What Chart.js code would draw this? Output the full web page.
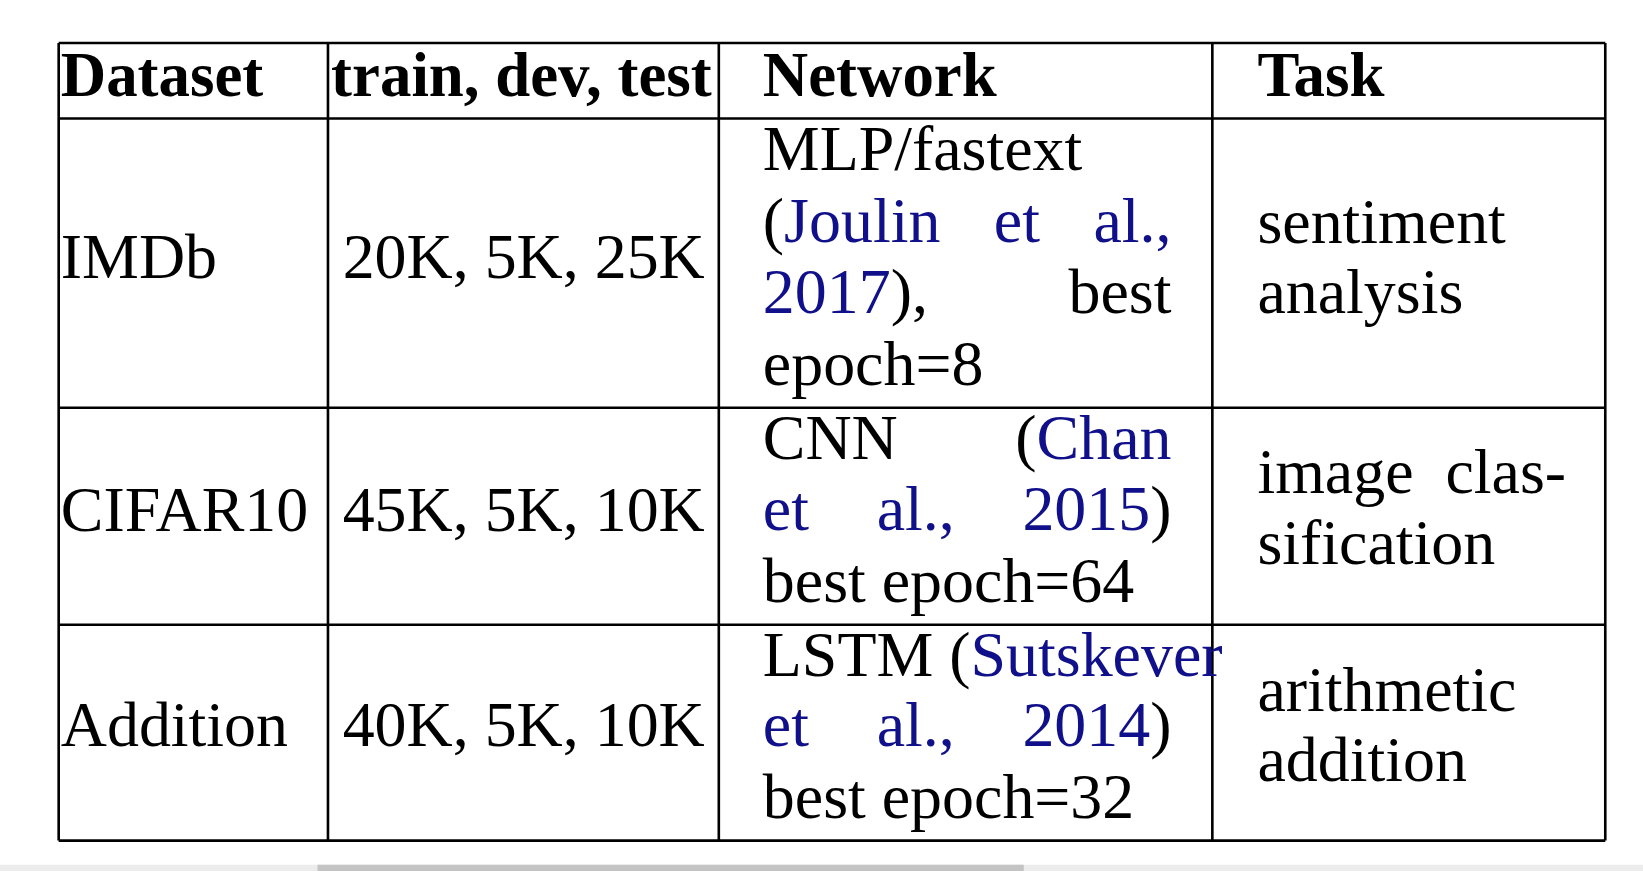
<!DOCTYPE html>
<html><head><meta charset="utf-8">
<script src="https://cdn.jsdelivr.net/npm/chart.js@4"></script>
<style>html,body{margin:0;padding:0;background:#fff}#wrap{width:1643px;height:871px;position:relative}</style>
</head><body><div id="wrap"><canvas id="c"></canvas></div>
<script>
const headers = ["Dataset", "train, dev, test", "Network", "Task"];
const datasets = ["IMDb", "CIFAR10", "Addition"];
const splits = ["20K, 5K, 25K", "45K, 5K, 10K", "40K, 5K, 10K"];
const B = "#10108a", K = "#000";
const networkLines = [
  [[0, [["MLP/fastext", K]]], [1, [["(", K], ["Joulin", B], [" ", K], ["et", B], [" ", K], ["al.,", B]]], [1, [["2017", B], [")," , K], [" ", K], ["best", K]]], [0, [["epoch=8", K]]]],
  [[1, [["CNN", K], [" ", K], ["(", K], ["Chan", B]]], [1, [["et", B], [" ", K], ["al.,", B], [" ", K], ["2015", B], [")", K]]], [0, [["best epoch=64", K]]]],
  [[0, [["LSTM (", K], ["Sutskever", B]]], [1, [["et", B], [" ", K], ["al.,", B], [" ", K], ["2014", B], [")", K]]], [0, [["best epoch=32", K]]]]
];
const tasks = [["sentiment", "analysis"], ["image  clas-", "sification"], ["arithmetic", "addition"]];

const colX = [56, 313, 686, 1157, 1532];
const rowY = [41, 113, 389, 596, 802];
const textX = [58, 327, 728, 1200];
const headBase = 92;
const rowBase = [265, 507, 712];
const netBase = [[162, 231, 299, 367], [438, 506, 574], [645, 712, 780]];
const taskBase = [[232, 299], [470, 538], [678, 745]];
const justifyRight = 1118;
const W = 1568, H = 831;

const tablePlugin = {
  id: 'table',
  afterDraw(chart) {
    const ctx = chart.ctx, sx = chart.scales.x, sy = chart.scales.y;
    const X = v => sx.getPixelForValue(v), Y = v => sy.getPixelForValue(v);
    const f = chart.width / W;
    ctx.save();
    ctx.fillStyle = "#ececec"; ctx.fillRect(X(0), Y(825), X(1568) - X(0), 7 * f);
    ctx.fillStyle = "#c4c4c4"; ctx.fillRect(X(303), Y(825), X(977) - X(303), 7 * f);
    ctx.strokeStyle = "#000"; ctx.lineWidth = 2.5 * f;
    colX.forEach(x => { ctx.beginPath(); ctx.moveTo(X(x), Y(rowY[0])); ctx.lineTo(X(x), Y(rowY[4])); ctx.stroke(); });
    rowY.forEach(y => { ctx.beginPath(); ctx.moveTo(X(colX[0]), Y(y)); ctx.lineTo(X(colX[4]), Y(y)); ctx.stroke(); });
    ctx.textBaseline = "alphabetic"; ctx.textAlign = "left";
    ctx.fillStyle = "#000";
    ctx.font = "bold " + (60 * f) + "px 'Liberation Serif'";
    headers.forEach((h, i) => ctx.fillText(h, X(i === 1 ? 316 : textX[i]), Y(headBase)));
    ctx.font = (61 * f) + "px 'Liberation Serif'";
    datasets.forEach((d, i) => ctx.fillText(d, X(textX[0]), Y(rowBase[i])));
    splits.forEach((d, i) => ctx.fillText(d, X(textX[1]), Y(rowBase[i])));
    tasks.forEach((t, i) => t.forEach((s, j) => ctx.fillText(s, X(textX[3]), Y(taskBase[i][j]))));
    networkLines.forEach((lines, i) => lines.forEach(([just, segs], j) => {
      const y = Y(netBase[i][j]);
      let extra = 0;
      const spaces = segs.filter(s => s[0] === " ").length;
      if (just && spaces) {
        const w = segs.reduce((a, s) => a + ctx.measureText(s[0]).width, 0);
        extra = (X(justifyRight) - X(textX[2]) - w) / spaces;
      }
      let x = X(textX[2]);
      segs.forEach(([t, c]) => {
        ctx.fillStyle = c; ctx.fillText(t, x, y);
        x += ctx.measureText(t).width + (t === " " ? extra : 0);
      });
    }));
    ctx.restore();
  }
};

new Chart(document.getElementById('c'), {
  type: 'scatter',
  data: { datasets: [{ data: [] }] },
  options: {
    responsive: true, maintainAspectRatio: false, animation: false,
    layout: { padding: 0 },
    plugins: { legend: { display: false }, tooltip: { enabled: false } },
    scales: {
      x: { type: 'linear', min: 0, max: W, display: false },
      y: { type: 'linear', min: 0, max: H, reverse: true, display: false }
    }
  },
  plugins: [tablePlugin]
});
</script></body></html>
